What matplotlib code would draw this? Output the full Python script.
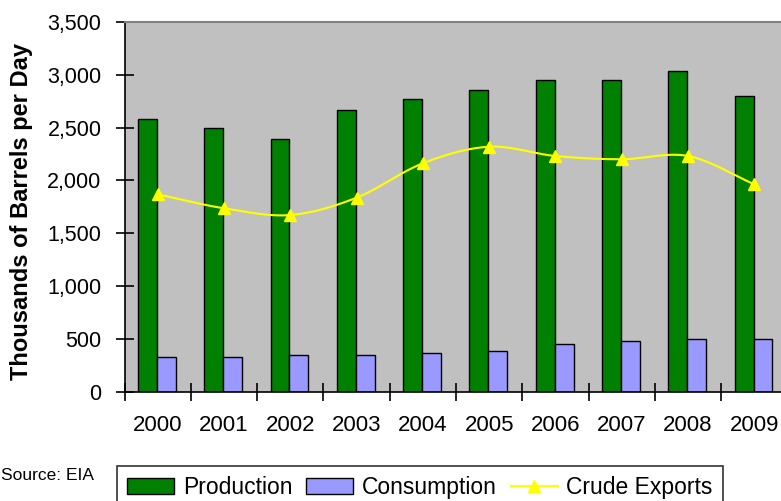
import numpy as np
import matplotlib
matplotlib.use("Agg")
import matplotlib.pyplot as plt
from matplotlib.patches import Patch
from matplotlib.lines import Line2D

years = ["2000", "2001", "2002", "2003", "2004", "2005", "2006", "2007", "2008", "2009"]
production = [2580, 2495, 2390, 2665, 2770, 2855, 2950, 2950, 3040, 2800]
consumption = [325, 325, 344, 344, 365, 385, 448, 482, 495, 495]
exports = [1868, 1736, 1672, 1836, 2162, 2319, 2231, 2200, 2231, 1963]

plt.rcParams['font.family'] = ['Liberation Sans', 'DejaVu Sans']

W, H = 781, 501
fig = plt.figure(figsize=(W / 100, H / 100), dpi=100)
fig.patch.set_facecolor('white')
ax = fig.add_axes([124.5 / W, (H - 391.6) / H, 663 / W, (391.6 - 22) / H])
ax.set_facecolor('#C0C0C0')

x = np.arange(len(years))
bw = 0.285
ax.bar(x - 0.155, production, width=bw, color='#008000', edgecolor='black', linewidth=1.0, zorder=2)
ax.bar(x + 0.13, consumption, width=bw, color='#9999FF', edgecolor='black', linewidth=1.0, zorder=2)

# smoothed line (Catmull-Rom through the data points)
px = x.astype(float)
py = np.array(exports, dtype=float)
ext_x = np.concatenate([[2 * px[0] - px[1]], px, [2 * px[-1] - px[-2]]])
ext_y = np.concatenate([[2 * py[0] - py[1]], py, [2 * py[-1] - py[-2]]])
sx, sy = [], []
for i in range(1, len(ext_x) - 2):
    t = np.linspace(0, 1, 20, endpoint=(i == len(ext_x) - 3))
    for arr, out in ((ext_x, sx), (ext_y, sy)):
        p0, p1, p2, p3 = arr[i - 1], arr[i], arr[i + 1], arr[i + 2]
        out.extend(0.5 * ((2 * p1) + (-p0 + p2) * t + (2 * p0 - 5 * p1 + 4 * p2 - p3) * t ** 2
                          + (-p0 + 3 * p1 - 3 * p2 + p3) * t ** 3))
ax.plot(sx, sy, color='#FFFF00', linewidth=1.5, zorder=3)
ax.plot(px, py, linestyle='none', marker='^', markersize=9, color='#FFFF00', zorder=4)

ax.set_xlim(-0.5, len(years) - 0.5)
ax.set_ylim(0, 3500)
ax.set_yticks(np.arange(0, 3501, 500))
ax.set_yticklabels([f"{v:,}" for v in range(0, 3501, 500)], fontsize=15.5)
ax.tick_params(axis='y', direction='inout', length=13, width=1.2, pad=10, colors='black')

ax.set_xticks(x)
ax.set_xticklabels(years, fontsize=16)
ax.tick_params(axis='x', which='major', length=0, pad=17)
ax.set_xticks(np.arange(-0.5, len(years), 1.0), minor=True)
ax.tick_params(axis='x', which='minor', direction='inout', length=13, width=1.2)

ax.spines['left'].set_color('black')
ax.spines['left'].set_linewidth(1.2)
ax.spines['bottom'].set_color('black')
ax.spines['bottom'].set_linewidth(1.2)
ax.spines['top'].set_color('#808080')
ax.spines['top'].set_linewidth(1.5)
ax.spines['right'].set_visible(False)

fig.text(22 / W, (H - 212) / H, "Thousands of Barrels per Day", rotation=90,
         fontsize=17, fontweight='bold', ha='center', va='center')
fig.text(1 / W, (H - 476) / H, "Source: EIA", fontsize=12.5, ha='left', va='center')

handles = [Patch(facecolor='#008000', edgecolor='black', linewidth=1.0),
           Patch(facecolor='#9999FF', edgecolor='black', linewidth=1.0),
           Line2D([0], [0], color='#FFFF00', linewidth=1.5, marker='^', markersize=9)]
leg = fig.legend(handles, ["Production", "Consumption", "Crude Exports"],
                 loc='upper left', bbox_to_anchor=(117 / W, (H - 466) / H),
                 ncol=3, fontsize=16.5, frameon=True, fancybox=False,
                 handlelength=2.05, handletextpad=0.38, columnspacing=0.6,
                 borderpad=0.45, borderaxespad=0)
leg.get_frame().set_edgecolor('black')
leg.get_frame().set_linewidth(1.2)

fig.savefig('out.png', dpi=100)
